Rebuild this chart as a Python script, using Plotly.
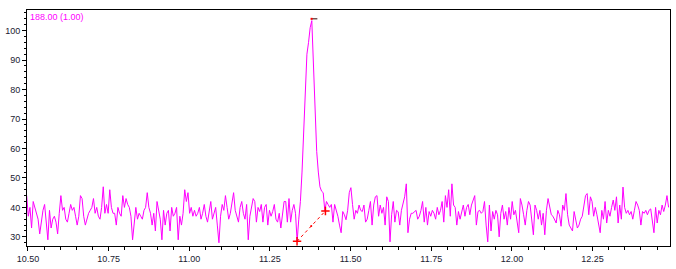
import plotly.graph_objects as go

# ---- data ----
T0 = 10.496          # time of first sample (min)
DT = 0.00505         # sampling interval (min)

VALUES = [
    # 10.50 - 11.04
    44, 37, 40, 33, 42, 40, 38, 36, 31, 35, 39, 41, 36, 29, 39, 33, 36, 37, 35, 31,
    38, 44, 39, 40, 36, 35, 38, 41, 39, 40, 37, 34, 37, 44, 43, 37, 34, 36, 38, 39,
    40, 43, 38, 40, 37, 36, 40, 47, 38, 41, 38, 46, 40, 38, 38, 34, 40, 38, 37, 44,
    40, 43, 41, 40, 37, 29, 36, 40, 36, 38, 37, 36, 39, 40, 45, 40, 38, 34, 38, 32,
    42, 39, 36, 29, 39, 34, 38, 39, 32, 40, 37, 38, 40, 29, 37, 34, 38, 46, 42, 45,
    38, 40, 37, 39, 37, 38, 40, 36,
    # 11.04 - 11.20
    38, 41, 37, 35, 39, 42, 36, 38, 40, 34, 28, 37, 41, 39, 44, 40, 36, 38, 42, 45,
    39, 37, 35, 40, 42, 38, 36, 41, 29, 37, 40, 43,
    # 11.20 - 11.33
    42, 35, 40, 38.6, 41, 35, 40, 41, 34, 39, 37, 38.6, 41, 36, 35, 38, 33, 37, 42, 42,
    35, 43, 35, 39, 41, 38,
    # peak
    28.5, 36, 42, 52, 66, 80, 92, 96, 101, 103.4, 86, 70, 59, 52, 47, 45.5, 45, 38.8,
    # 11.43 - 11.81
    42, 41, 40, 41, 35, 41, 39, 37, 34, 31.4, 38.6, 37.5, 35.8, 39, 45, 46.7, 41, 36, 39, 38,
    40.8, 39, 38.6, 40.8, 35, 36, 39, 42, 34, 40.8, 43.6, 44, 37, 40.8, 38, 40, 34, 43.6, 42, 28.3,
    37.5, 42, 35, 39, 38.5, 34, 39, 41, 43.6, 48, 31.4, 36, 38, 38, 38.5, 39, 36, 37, 39, 42,
    35, 40, 34, 38.6, 37, 39, 38, 36, 40, 37.5, 39, 42, 35, 44, 40, 46, 37,
    # 11.81 - 12.49
    48, 40.8, 40, 34, 38.6, 36, 39, 40.8, 37, 40, 41, 37.5, 40.8, 42.5, 44, 34, 38.6, 39, 38, 38.6,
    42, 34, 28.3, 40.8, 32, 38.6, 36, 39, 37.5, 30, 38, 40.8, 36, 38.6, 34, 40, 36, 42, 37.5, 39,
    35, 31.4, 43, 40.8, 37.5, 34, 39, 42, 40.8, 36, 30.7, 40.8, 39, 36, 39, 34, 38, 30.7, 39, 43,
    40, 37.5, 37, 36, 34.7, 39, 37.5, 33.6, 40.8, 39, 44.7, 37.5, 34, 33, 32, 38.6, 35, 33, 34, 36,
    37, 40.8, 44, 44.7, 37.5, 43.6, 42, 37, 40, 37.5, 34, 31.4, 39, 36, 42, 34.7, 39, 37, 40, 42.5,
    39, 43.6, 34.7, 40.8, 36, 46.9, 40, 38, 39, 37.5, 38.6, 36, 39, 42, 40.8, 39, 34, 38.6, 38, 39,
    37.5, 39, 39.5, 35, 31.4, 40, 34.7, 39, 37.5, 40.8, 38.6, 40.8, 44, 40,
]
TIMES = [T0 + DT * i for i in range(len(VALUES))]

BASELINE_T = [11.334, 11.422]     # integration baseline start / end
BASELINE_V = [28.5, 38.8]
APEX_T = [11.379, 11.397]         # apex marker
APEX_V = [104.0, 104.0]

X_TICKS = [10.50, 10.75, 11.00, 11.25, 11.50, 11.75, 12.00, 12.25]
Y_TICKS = [30, 40, 50, 60, 70, 80, 90, 100]
LABEL = "188.00 (1.00)"

fig = go.Figure()
fig.add_trace(go.Scatter(x=TIMES, y=VALUES, mode="lines",
                         line=dict(color="#ff00ff", width=1), hoverinfo="skip"))
fig.add_trace(go.Scatter(x=BASELINE_T, y=BASELINE_V, mode="lines+markers",
                         line=dict(color="#ff0000", width=1, dash="dot"),
                         marker=dict(symbol="cross-thin", size=6,
                                     line=dict(color="#ff0000", width=1.5))))
fig.add_trace(go.Scatter(x=[sum(BASELINE_T) / 2], y=[sum(BASELINE_V) / 2], mode="markers",
                         marker=dict(symbol="circle", size=2, color="#ff0000")))
fig.add_trace(go.Scatter(x=APEX_T, y=APEX_V, mode="lines",
                         line=dict(color="#300000", width=1)))
fig.add_trace(go.Scatter(x=[APEX_T[0]], y=[APEX_V[0]], mode="markers",
                         marker=dict(symbol="square", size=2, color="#ff0000")))

axis_font = dict(family="Liberation Sans, Arial, sans-serif", size=9, color="#202030")
fig.update_layout(
    width=676, height=269,
    margin=dict(l=21, r=5, t=10, b=18),
    paper_bgcolor="white", plot_bgcolor="white",
    showlegend=False,
    xaxis=dict(range=[10.497, 12.49], tickvals=X_TICKS, tickformat=".2f",
               ticks="outside", ticklen=4, tickcolor="black", tickwidth=1,
               minor=dict(dtick=0.05, ticks="outside", ticklen=3, tickcolor="black"),
               showgrid=False, zeroline=False, showline=True, linecolor="black",
               linewidth=1, mirror=True, tickfont=axis_font),
    yaxis=dict(range=[26.9, 107.0], tickvals=Y_TICKS,
               ticks="outside", ticklen=4, tickcolor="black", tickwidth=1,
               minor=dict(dtick=2, ticks="outside", ticklen=2, tickcolor="black"),
               showgrid=False, zeroline=False, showline=True, linecolor="black",
               linewidth=1, mirror=True, tickfont=axis_font),
    annotations=[dict(text=LABEL, xref="paper", yref="paper", x=0.002, y=1.0,
                      xanchor="left", yanchor="top", showarrow=False,
                      font=dict(family="Liberation Sans, Arial, sans-serif",
                                size=9, color="#ff00ff"))],
)

fig.write_html("out.html")
